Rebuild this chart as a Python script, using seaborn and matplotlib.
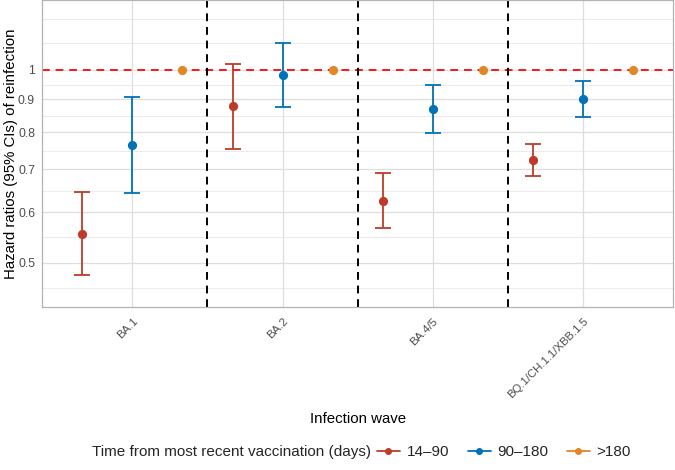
import numpy as np
import pandas as pd
import matplotlib
matplotlib.use('Agg')
import matplotlib.pyplot as plt
from matplotlib.lines import Line2D
import seaborn as sns

# ─── Data ────────────────────────────────────────────────────────────────────
waves = ['BA.1', 'BA.2', 'BA.4/5', 'BQ.1/CH.1.1/XBB.1.5']
groups = ['14–90', '90–180', '>180']

hr_14_90 = [0.555, 0.877, 0.625, 0.723]
lo_14_90 = [0.479, 0.753, 0.566, 0.683]
hi_14_90 = [0.644, 1.022, 0.690, 0.766]

hr_90_180 = [0.764, 0.982, 0.869, 0.900]
lo_90_180 = [0.643, 0.875, 0.797, 0.844]
hi_90_180 = [0.908, 1.103, 0.948, 0.961]

hr_180 = [1.0, 1.0, 1.0, 1.0]

y_breaks = [0.5, 0.6, 0.7, 0.8, 0.9, 1.0]
y_labels = ['0.5', '0.6', '0.7', '0.8', '0.9', '1']
y_minor = [0.456, 0.548, 0.648, 0.748, 0.849, 0.949, 1.1, 1.2]

palette = ['#BC3C29', '#0072B5', '#E18727']

df = pd.DataFrame({
    'wave': waves * 3,
    'group': [g for g in groups for _ in waves],
    'hr': hr_14_90 + hr_90_180 + hr_180,
    'lo': lo_14_90 + lo_90_180 + [np.nan] * 4,
    'hi': hi_14_90 + hi_90_180 + [np.nan] * 4,
})

# ─── Figure ──────────────────────────────────────────────────────────────────
sns.set_theme(style='white')
plt.rcParams['font.family'] = ['Liberation Sans', 'DejaVu Sans']

fig = plt.figure(figsize=(6.75, 4.7), dpi=100)
ax = fig.add_axes([42.3 / 675, 1 - 306.7 / 470, (673 - 42.3) / 675, 306.7 / 470])

dodge = 2 / 3
sns.pointplot(data=df, x='wave', y='hr', hue='group', order=waves,
              hue_order=groups, palette=palette, dodge=dodge,
              linestyle='none', errorbar=None, markers='o',
              markersize=4.6, ax=ax, legend=False, native_scale=False,
              zorder=4)

offsets = np.linspace(-dodge / 2, dodge / 2, len(groups))
for gi, g in enumerate(groups):
    sub = df[(df['group'] == g) & df['lo'].notna()]
    if sub.empty:
        continue
    xs = np.array([waves.index(w) for w in sub['wave']]) + offsets[gi]
    ax.errorbar(xs, sub['hr'], yerr=[sub['hr'] - sub['lo'], sub['hi'] - sub['hr']],
                fmt='none', ecolor=palette[gi], elinewidth=1.3,
                capsize=6, capthick=1.3, zorder=3)

# grid + reference lines
for v in y_minor:
    ax.axhline(v, color='#EBEBEB', lw=0.7, zorder=0)
for v in y_breaks:
    ax.axhline(v, color='#DEDEDE', lw=0.9, zorder=0)
for i in range(len(waves)):
    ax.axvline(i, color='#DEDEDE', lw=0.9, zorder=0)

ax.axhline(1.0, color='#F21A1A', lw=1.4, ls=(0, (4, 3)), zorder=1)
for i in range(len(waves) - 1):
    ax.axvline(i + 0.5, color='black', lw=1.4, ls=(0, (4, 3)), zorder=2)

# pointplot resets the limits, so set them afterwards
ax.set_yscale('log')
ax.set_ylim(0.427, 1.286)
ax.set_xlim(-0.6, 3.6)

ax.set_yticks(y_breaks)
ax.set_yticklabels(y_labels)
ax.yaxis.set_minor_locator(matplotlib.ticker.NullLocator())
ax.set_xticks(range(len(waves)))
ax.set_xticklabels(waves, rotation=45, ha='right', va='top',
                   rotation_mode='anchor')
ax.tick_params(axis='both', colors='#B3B3B3', labelcolor='#4D4D4D',
               length=2.7, width=0.7, pad=2.5)
ax.tick_params(axis='y', labelsize=8.8)
ax.tick_params(axis='x', labelsize=8.2, pad=4)

for s in ax.spines.values():
    s.set_color('#B3B3B3')
    s.set_linewidth(0.9)

ax.set_xlabel('Infection wave', fontsize=10.8, color='black')
ax.set_ylabel('Hazard ratios (95% CIs) of reinfection', fontsize=10.8,
              color='black')
ax.xaxis.set_label_coords(0.5, -(412 - 306.7) / 306.7)
ax.yaxis.set_label_coords(-(42.3 - 18.5) / 630.7, 0.5)

# legend along the bottom, title inline
fig.text(92 / 675, 1 - 452 / 470, 'Time from most recent vaccination (days)',
         fontsize=11, va='center', ha='left')
handles = [Line2D([0], [0], color=c, lw=1.3, marker='o', markersize=4)
           for c in palette]
fig.legend(handles, groups, loc='center left',
           bbox_to_anchor=(377 / 675, 1 - 452 / 470), ncol=3, frameon=False,
           fontsize=11, handlelength=1.5, handletextpad=0.45,
           columnspacing=1.2, borderaxespad=0, borderpad=0)

fig.savefig('out.png', dpi=100)
